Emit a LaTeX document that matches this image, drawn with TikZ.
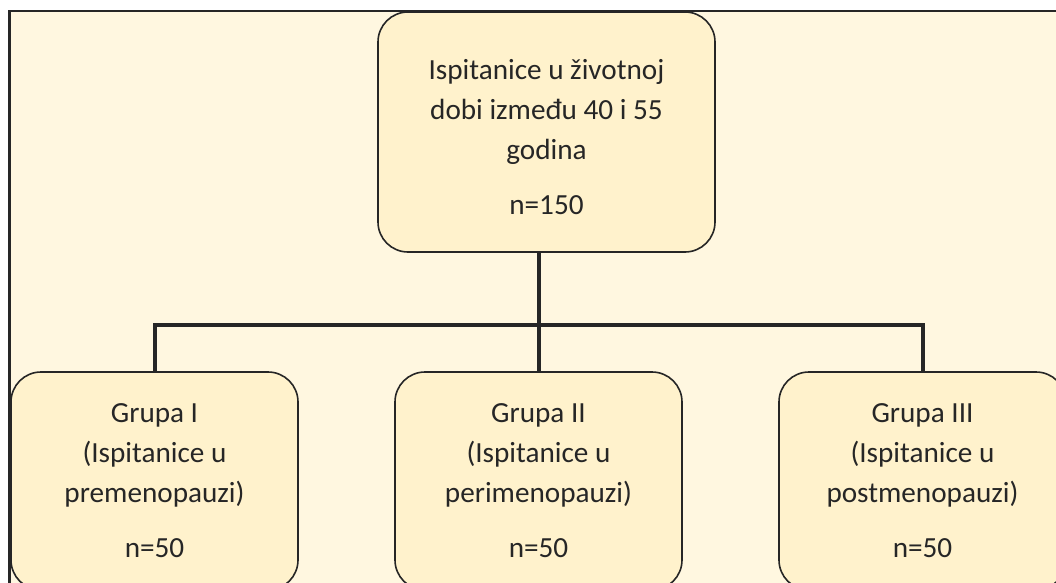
\documentclass[tikz,border=0pt]{standalone}
\usepackage{fontspec}
\setmainfont{Carlito}
\definecolor{bgcream}{RGB}{255,247,224}
\definecolor{boxfill}{RGB}{255,242,204}
\definecolor{inkc}{RGB}{38,38,38}
\begin{document}
\begin{tikzpicture}[x=0.5pt,y=-0.5pt,
  txt/.style={inner sep=0pt, align=center, text=inkc,
    font=\fontsize{14.6pt}{20pt}\selectfont},
  box/.style={txt, draw=inkc, line width=0.8pt, fill=boxfill, rounded corners=15pt},
  conn/.style={draw=inkc, line width=2pt},
  frame/.style={draw=inkc, line width=1.3pt, fill=bgcream}]
\useasboundingbox (0,0) rectangle (1056,583);
\begin{scope}
\clip (0,0) rectangle (1056,583);
\fill[white] (0,0) rectangle (1056,583);
\path[frame] (9.5,11) rectangle (1080,620);
\node[box, minimum width=337*0.5pt, minimum height=240*0.5pt] (top) at (546.5,132) {};
\node[txt] (toptext) at (546.5,137)
  {Ispitanice u životnoj\\dobi između 40 i 55\\godina\\[7.5pt]n=150};
\node[box, minimum width=287*0.5pt, minimum height=218*0.5pt] (left) at (154.5,481)
  {Grupa I\\(Ispitanice u\\premenopauzi)\\[7.5pt]n=50};
\node[box, minimum width=287*0.5pt, minimum height=218*0.5pt] (mid) at (538.5,481)
  {Grupa II\\(Ispitanice u\\perimenopauzi)\\[7.5pt]n=50};
\node[box, minimum width=287*0.5pt, minimum height=218*0.5pt] (right) at (922.5,481)
  {Grupa III\\(Ispitanice u\\postmenopauzi)\\[7.5pt]n=50};
\coordinate (bus) at (539,325);
\draw[conn] (top.south -| bus) -- (mid.north -| bus);
\draw[conn] (left.north) |- (bus) -| (right.north);
\end{scope}
\end{tikzpicture}
\end{document}
